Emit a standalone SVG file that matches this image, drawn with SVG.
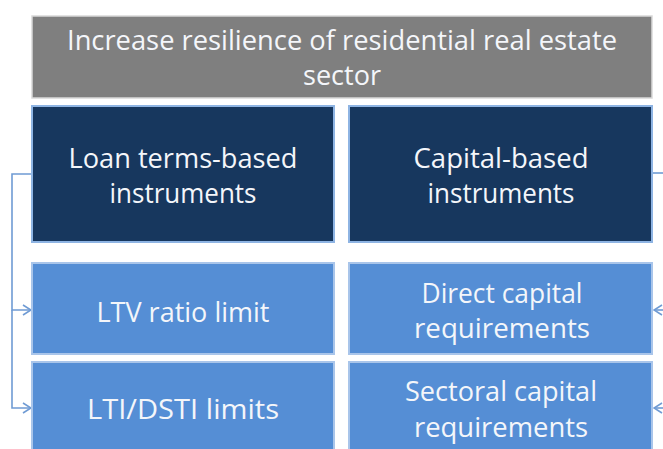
<svg xmlns="http://www.w3.org/2000/svg" width="663" height="449" viewBox="0 0 663 449">
  <defs>
    <style>
      .goal { fill: #7f7f7f; stroke: #d9d9d9; stroke-width: 1.5; }
      .group { fill: #17375e; stroke: #8eb4e3; stroke-width: 2; }
      .tool { fill: #558ed5; stroke: #a9c5ea; stroke-width: 2; }
      text { font-family: "Open Sans", "Noto Sans", "DejaVu Sans", sans-serif; font-size: 28px; fill: #f4f6fa; text-anchor: middle; }
      .link { fill: none; stroke: #6f9bd4; stroke-width: 1.6; }
    </style>
    <marker id="arrow" viewBox="0 0 10 12" refX="9" refY="6" markerWidth="10" markerHeight="12" markerUnits="userSpaceOnUse" orient="auto">
      <path d="M1,1 L9,6 L1,11" fill="none" stroke="#6f9bd4" stroke-width="1.6"/>
    </marker>
  </defs>
  <rect width="663" height="449" fill="#ffffff"/>

  <g id="connectors">
    <!-- loan-terms branch on the left -->
    <path class="link" d="M32,174 H12 V310 H31" marker-end="url(#arrow)"/>
    <path class="link" d="M12,310 V408 H31" marker-end="url(#arrow)"/>
    <!-- capital branch, running off the right edge -->
    <path class="link" d="M653,173 H670"/>
    <path class="link" d="M670,310 H654" marker-end="url(#arrow)"/>
    <path class="link" d="M670,408 H654" marker-end="url(#arrow)"/>
  </g>

  <g id="goal">
    <rect class="goal" x="32" y="16" width="620" height="82"/>
    <text x="342" y="50" textLength="550" lengthAdjust="spacingAndGlyphs">Increase resilience of residential  real estate</text>
    <text x="342" y="85" textLength="78" lengthAdjust="spacingAndGlyphs">sector</text>
  </g>

  <g id="loan-terms">
    <rect class="group" x="32" y="106" width="302" height="136"/>
    <text x="183" y="168" textLength="229" lengthAdjust="spacingAndGlyphs">Loan terms-based</text>
    <text x="183" y="203" textLength="147" lengthAdjust="spacingAndGlyphs">instruments</text>
  </g>

  <g id="capital">
    <rect class="group" x="349" y="106" width="303" height="136"/>
    <text x="501" y="168" textLength="175" lengthAdjust="spacingAndGlyphs">Capital-based</text>
    <text x="501" y="203" textLength="147" lengthAdjust="spacingAndGlyphs">instruments</text>
  </g>

  <g id="ltv">
    <rect class="tool" x="32" y="263" width="302" height="91"/>
    <text x="183" y="322" textLength="173" lengthAdjust="spacingAndGlyphs">LTV ratio  limit</text>
  </g>

  <g id="direct-capital">
    <rect class="tool" x="349" y="263" width="303" height="91"/>
    <text x="502" y="303" textLength="161" lengthAdjust="spacingAndGlyphs">Direct capital</text>
    <text x="502" y="338" textLength="176" lengthAdjust="spacingAndGlyphs">requirements</text>
  </g>

  <g id="lti-dsti">
    <rect class="tool" x="32" y="362" width="302" height="100"/>
    <text x="183" y="419" textLength="192" lengthAdjust="spacingAndGlyphs">LTI/DSTI limits</text>
  </g>

  <g id="sectoral-capital">
    <rect class="tool" x="349" y="362" width="303" height="100"/>
    <text x="501" y="401" textLength="192" lengthAdjust="spacingAndGlyphs">Sectoral capital</text>
    <text x="501" y="437" textLength="174" lengthAdjust="spacingAndGlyphs">requirements</text>
  </g>
</svg>
